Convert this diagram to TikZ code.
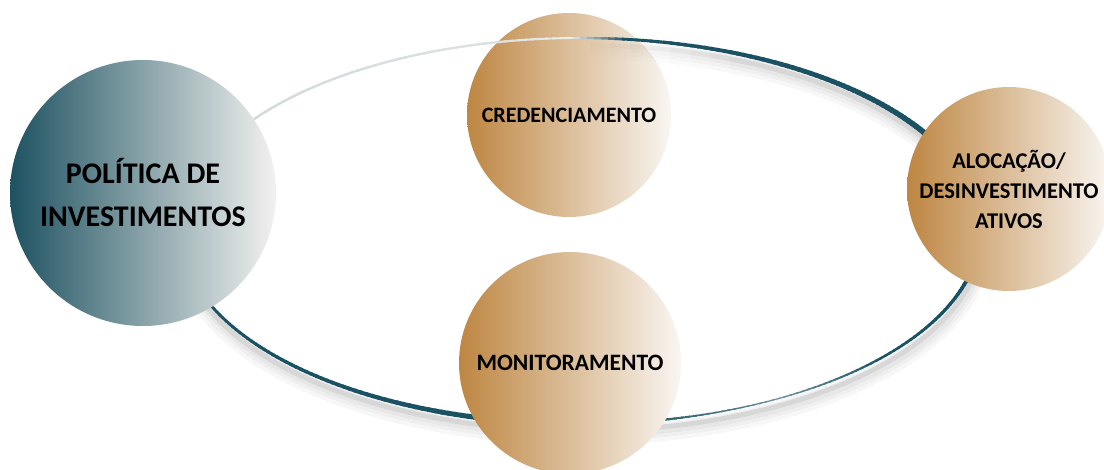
\documentclass[tikz,border=0pt]{standalone}
\usepackage{fontspec}
\setmainfont{Carlito}
\usetikzlibrary{calc}
\definecolor{ringteal}{RGB}{27,82,99}
\definecolor{ringlight}{RGB}{236,236,236}
\definecolor{polL}{RGB}{30,82,97}
\definecolor{polR}{RGB}{242,242,240}
\definecolor{brnL}{RGB}{190,134,66}
\definecolor{brnR}{RGB}{249,246,242}
\begin{document}
\begin{tikzpicture}[x=1pt,y=-1pt]
\tikzset{
  stage/.style={circle, inner sep=0pt, align=center, text=black,
    font=\bfseries\fontsize{22}{30}\selectfont, left color=brnL, right color=brnR},
  policy/.style={circle, inner sep=0pt, align=center, text=black,
    font=\bfseries\fontsize{30}{43}\selectfont, left color=polL, right color=polR},
  ringshadow/.style={black, line width=#1}
}
\useasboundingbox (0,0) rectangle (1104,470);
\fill[white] (0,0) rectangle (1104,470);
\coordinate (C) at (580,231);

% circle under the ring
\node[stage, minimum size=204pt] (cred) at (569,115) {CREDENCIAMENTO};

% soft shadow of the ring, fading in along the top
\foreach \k in {0,...,7}{
  \pgfmathsetmacro\xe{590+20*\k}
  \pgfmathsetmacro\ye{165+7*\k}
  \begin{scope}
    \clip (0,\ye) -- (\xe,\ye) -- (\xe,0) -- (1104,0) -- (1104,470) -- (0,470) -- cycle;
    \draw[ringshadow=20pt, opacity=0.003] ([shift={(2,11)}]C) ellipse[x radius=400, y radius=193];
    \draw[ringshadow=14pt, opacity=0.0045] ([shift={(2,10)}]C) ellipse[x radius=400, y radius=193];
    \draw[ringshadow=9pt, opacity=0.0055] ([shift={(2,9)}]C) ellipse[x radius=400, y radius=193];
    \draw[ringshadow=5pt, opacity=0.006] ([shift={(1,7)}]C) ellipse[x radius=400, y radius=193];
  \end{scope}
}

% the ring, with varying width and colour
\foreach \ta/\tb/\wa/\wb/\ca/\cb in {
  0/17/5/3.5/100/100, 17/41/3.5/2.3/100/100, 41/60/2.3/1.2/100/60,
  60/70/1.2/1.5/60/80, 70/85/1.5/3/80/100, 85/105/3/5/100/100,
  105/130/5/3.5/100/100, 130/160/3.5/2.5/100/100, 160/185/2.5/2.5/100/15,
  185/258/2.5/2.2/15/8, 258/268/2.2/1.8/8/0, 268/276/1.8/2.8/0/100,
  276/300/2.8/4.5/100/100, 300/340/4.5/6/100/100, 340/360/6/5/100/100}{
  \pgfmathtruncatemacro\tbm{\tb-1}
  \foreach \t in {\ta,...,\tbm}{
    \pgfmathsetmacro\w{\wa+(\wb-\wa)*(\t-\ta)/(\tb-\ta)}
    \pgfmathtruncatemacro\c{\ca+(\cb-\ca)*(\t-\ta)/(\tb-\ta)}
    \draw[line width=\w pt, ringteal!\c!ringlight]
      ([shift={(\t:400 and 193)}]C) arc[start angle=\t, end angle=\t+1.4, x radius=400, y radius=193];
  }
}

% circles over the ring
\node[policy, minimum size=266pt] (pol) at (143,193) {POLÍTICA DE\\INVESTIMENTOS};
\node[stage, minimum size=204pt, font=\bfseries\fontsize{22.5}{30}\selectfont] (aloc) at (1009,189) {ALOCAÇÃO/\\DESINVESTIMENTO\\ATIVOS};
\node[stage, minimum size=222pt, font=\bfseries\fontsize{23.5}{30}\selectfont] (mon) at (570,363) {MONITORAMENTO};
\end{tikzpicture}
\end{document}
